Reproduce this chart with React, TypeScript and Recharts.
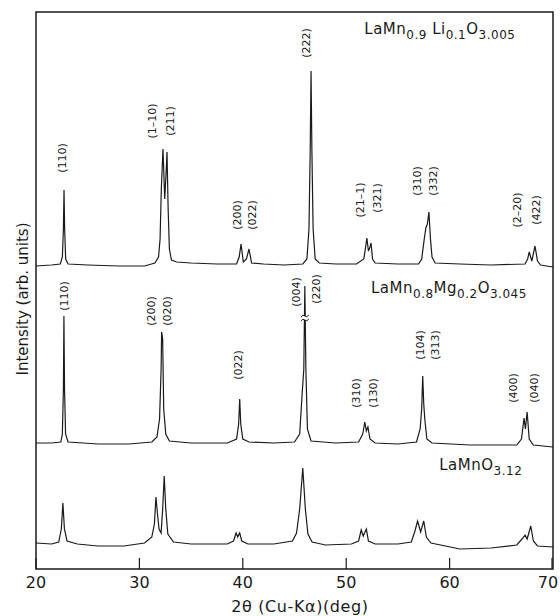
import React from "react";
import { LineChart, Line, XAxis, YAxis, ReferenceArea, ReferenceDot, Label } from "recharts";

// [2θ (deg), intensity (arb. units)]
const liPattern: [number, number][] = [
  [20, 303], [21.5, 304], [22.35, 305], [22.55, 312], [22.65, 340], [22.71, 379], [22.77, 340], [22.87, 310],
  [23.1, 305], [25, 304], [28, 303], [30.5, 303], [31.5, 306], [31.85, 312], [32.0, 330], [32.12, 380],
  [32.28, 420], [32.45, 370], [32.6, 400], [32.67, 417], [32.78, 360], [32.9, 320], [33.1, 309], [33.6, 307],
  [35, 306], [37.5, 305], [39.4, 305], [39.65, 312], [39.83, 325], [40.05, 307], [40.35, 310], [40.6, 320],
  [40.85, 306], [42, 305], [44, 304], [45.8, 305], [46.2, 310], [46.4, 340], [46.52, 420], [46.6, 498],
  [46.68, 420], [46.8, 340], [47.0, 310], [47.4, 306], [49, 305], [51.0, 305], [51.7, 310], [51.85, 320],
  [52.0, 331], [52.15, 318], [52.3, 322], [52.4, 326], [52.55, 310], [52.8, 306], [55, 305], [57.0, 305],
  [57.3, 310], [57.55, 330], [57.7, 341], [57.85, 345], [58.0, 357], [58.15, 330], [58.3, 312], [58.6, 306],
  [61, 305], [64, 304], [67.3, 305], [67.55, 310], [67.7, 317], [67.95, 308], [68.26, 323], [68.5, 308],
  [68.8, 304], [70, 302],
];

const mgPattern: [number, number][] = [
  [20, 126], [21.5, 126], [22.4, 127], [22.55, 135], [22.65, 180], [22.7, 253], [22.76, 180], [22.86, 135],
  [23.1, 127], [26, 125], [29, 125], [31.2, 127], [31.7, 132], [31.95, 150], [32.1, 200], [32.15, 237],
  [32.25, 230], [32.35, 160], [32.55, 135], [32.9, 128], [35, 126], [38.5, 126], [39.4, 130], [39.6, 145],
  [39.7, 170], [39.8, 145], [40.0, 130], [40.6, 127], [43, 126], [45.0, 127], [45.5, 135], [45.75, 177],
  [45.9, 200], [46.0, 283], [46.1, 200], [46.25, 140], [46.6, 128], [49, 126], [51.2, 127], [51.6, 135],
  [51.8, 147], [51.95, 138], [52.1, 142], [52.3, 130], [52.8, 126], [55, 125], [56.8, 127], [57.15, 140],
  [57.3, 160], [57.4, 193], [57.5, 165], [57.6, 150], [57.8, 130], [58.3, 126], [62, 124], [66.5, 124],
  [66.95, 130], [67.2, 151], [67.33, 140], [67.5, 157], [67.7, 130], [68.1, 124], [70, 122],
];

const lamnoPattern: [number, number][] = [
  [20, 26], [21.5, 25], [22.2, 27], [22.45, 40], [22.6, 66], [22.75, 40], [23.0, 28], [24, 25],
  [26, 23], [28.5, 23], [30.5, 26], [31.2, 32], [31.45, 45], [31.6, 72], [31.75, 55], [31.9, 40],
  [32.1, 36], [32.25, 60], [32.4, 93], [32.55, 60], [32.75, 35], [33.3, 27], [35, 25], [38.5, 25],
  [39.1, 28], [39.35, 36], [39.5, 32], [39.7, 36], [39.9, 28], [40.5, 25], [43, 25], [44.8, 28],
  [45.2, 36], [45.5, 60], [45.8, 101], [46.05, 60], [46.3, 35], [46.7, 27], [48, 24], [50.5, 25],
  [51.2, 28], [51.45, 39], [51.65, 33], [51.95, 40], [52.15, 28], [52.8, 25], [55, 25], [56.3, 27],
  [56.65, 38], [56.9, 48], [57.2, 37], [57.5, 48], [57.75, 32], [58.2, 26], [61, 20], [64, 21],
  [66.5, 24], [67.0, 30], [67.3, 34], [67.5, 30], [67.85, 43], [68.1, 28], [68.5, 23], [70, 22],
];

// Miller index labels: [2θ, intensity at label centre, text]
const hklLabels: [number, number, string][] = [
  [22.6, 411, "(110)"], [31.3, 448, "(1\u201310)"], [32.96, 448, "(211)"], [39.44, 354, "(200)"],
  [40.9, 354, "(022)"], [46.2, 526, "(222)"], [51.4, 369, "(21\u20131)"], [53.0, 371, "(321)"],
  [56.9, 388, "(310)"], [58.4, 388, "(332)"], [66.6, 359, "(2\u201320)"], [68.45, 359, "(422)"],
  [22.8, 273, "(110)"], [31.2, 258, "(200)"], [32.7, 258, "(020)"], [39.6, 204, "(022)"],
  [45.15, 277, "(004)"], [47.1, 280, "(220)"], [51.0, 176, "(310)"], [52.6, 176, "(130)"],
  [57.2, 224, "(104)"], [58.6, 224, "(313)"], [66.2, 181, "(400)"], [68.2, 181, "(040)"],
];

// sample names: [2θ of left edge, intensity of baseline, parts [text, isSubscript]]
const sampleLabels: [number, number, [string, boolean][]][] = [
  [51.75, 535, [["LaMn", false], ["0.9", true], [" Li", false], ["0.1", true], ["O", false], ["3.005", true]]],
  [52.4, 276, [["LaMn", false], ["0.8", true], ["Mg", false], ["0.2", true], ["O", false], ["3.045", true]]],
  [59.0, 99, [["LaMnO", false], ["3.12", true]]],
];

// axis break on the truncated (220) peak of the Mg-doped sample
const breakMark: [number, number] = [46.0, 251];

const xTicks = [20, 30, 40, 50, 60, 70];

const toRows = (pts: [number, number][]) => pts.map(([t, i]) => ({ t, i }));

const FONT = "'DejaVu Sans', sans-serif";
const INK = "#1a1a1a";

const Tick = (props: any) => {
  const { x, y, payload } = props;
  const tx = payload.value === 70 ? x - 4 : x;
  return (
    <g>
      <line x1={x} x2={x} y1={y} y2={y - 11} stroke={INK} strokeWidth={1.2} />
      <text x={tx} y={y + 19} textAnchor="middle" fontSize={16} fontFamily={FONT} fill={INK}>
        {payload.value}
      </text>
    </g>
  );
};

export default function App() {
  return (
    <div style={{ position: "absolute", left: 0, top: 0, background: "#fff" }}>
      <LineChart width={560} height={616} margin={{ top: 12, right: 7, left: 36, bottom: 7 }}>
        <XAxis
          dataKey="t"
          type="number"
          domain={[20, 70]}
          ticks={xTicks}
          allowDataOverflow
          axisLine={false}
          tickLine={false}
          tickSize={0}
          tickMargin={0}
          height={40}
          tick={<Tick />}
        >
          <Label
            content={() => (
              <text x={300} y={612} textAnchor="middle" fontSize={16} letterSpacing={0.6} fontFamily={FONT} fill={INK}>
                2θ (Cu-Kα)(deg)
              </text>
            )}
          />
        </XAxis>
        <YAxis type="number" domain={[0, 557]} hide allowDataOverflow />
        <ReferenceArea x1={20} x2={70} y1={0} y2={557} fill="none" stroke={INK} strokeWidth={1.5} />
        <Line data={toRows(liPattern)} dataKey="i" type="linear" dot={false} stroke={INK} strokeWidth={1.2} isAnimationActive={false} />
        <Line data={toRows(mgPattern)} dataKey="i" type="linear" dot={false} stroke={INK} strokeWidth={1.2} isAnimationActive={false} />
        <Line data={toRows(lamnoPattern)} dataKey="i" type="linear" dot={false} stroke={INK} strokeWidth={1.2} isAnimationActive={false} />
        <ReferenceDot
          x={breakMark[0]}
          y={breakMark[1]}
          r={0}
          shape={(p: any) => (
            <g>
              <rect x={p.cx - 5} y={p.cy - 2} width={10} height={4} fill="#fff" />
              <path
                d={`M ${p.cx - 4} ${p.cy - 1} q 2 -3 4 -1 q 2 2 4 -1 M ${p.cx - 4} ${p.cy + 3} q 2 -3 4 -1 q 2 2 4 -1`}
                fill="none"
                stroke={INK}
                strokeWidth={1}
              />
            </g>
          )}
        />
        {hklLabels.map(([t, i, s], k) => (
          <ReferenceDot
            key={"h" + k}
            x={t}
            y={i}
            r={0}
            shape={(p: any) => (
              <text
                x={p.cx}
                y={p.cy}
                transform={`rotate(-90 ${p.cx} ${p.cy})`}
                textAnchor="middle"
                dominantBaseline="central"
                fontSize={11}
                fontFamily={FONT}
                fill={INK}
              >
                {s}
              </text>
            )}
          />
        ))}
        {sampleLabels.map(([t, i, parts], k) => (
          <ReferenceDot
            key={"s" + k}
            x={t}
            y={i}
            r={0}
            shape={(p: any) => (
              <text x={p.cx} y={p.cy} fontSize={15} letterSpacing={0.5} fontFamily={FONT} fill={INK}>
                {parts.map(([txt, sub], j) => {
                  const prevSub = j > 0 && parts[j - 1][1];
                  const dy = sub ? 5 : prevSub ? -5 : 0;
                  return (
                    <tspan key={j} fontSize={sub ? 12 : 15} dy={dy}>
                      {txt}
                    </tspan>
                  );
                })}
              </text>
            )}
          />
        ))}
      </LineChart>
      <svg width={560} height={616} style={{ position: "absolute", left: 0, top: 0, pointerEvents: "none" }}>
        <text
          x={23}
          y={299}
          transform="rotate(-90 23 299)"
          textAnchor="middle"
          dominantBaseline="central"
          fontSize={15}
          fontFamily={FONT}
          fill={INK}
        >
          Intensity (arb. units)
        </text>
      </svg>
    </div>
  );
}
